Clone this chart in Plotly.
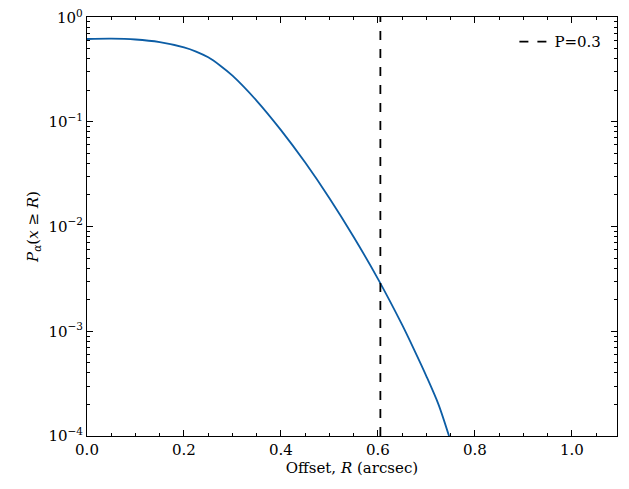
import plotly.graph_objects as go

x = [0.0, 0.05, 0.1, 0.15, 0.2, 0.225, 0.25, 0.275, 0.3, 0.35, 0.4, 0.45, 0.5, 0.55, 0.6, 0.65, 0.675, 0.7, 0.725, 0.75]
logy = [-0.21, -0.207, -0.215, -0.24, -0.29, -0.33, -0.385, -0.465, -0.56, -0.80, -1.08, -1.39, -1.73, -2.10, -2.50, -2.94, -3.18, -3.43, -3.70, -4.05]
y = [10 ** v for v in logy]
vline_x = 0.605
yticks = [1e-4, 1e-3, 1e-2, 1e-1]
yticklabels = ["10<sup>−4</sup>", "10<sup>−3</sup>", "10<sup>−2</sup>", "10<sup>−1</sup>"]
top_label = "10<sup>0</sup>"

font = dict(family="DejaVu Serif", size=15, color="black")
fig = go.Figure()
fig.add_trace(go.Scatter(x=x, y=y, mode="lines", line=dict(color="#0C5DA5", width=1.8, shape="spline", smoothing=0.8), showlegend=False))
fig.add_trace(go.Scatter(x=[vline_x, vline_x], y=[1e-4, 1], mode="lines", line=dict(color="black", width=1.8, dash="dash"), name="P=0.3"))

axis = dict(showgrid=False, zeroline=False, mirror="allticks", ticks="inside", showline=True, automargin=False,
            linecolor="black", linewidth=1, tickcolor="black", ticklen=6, tickfont=font)
fig.update_xaxes(**axis, range=[0, 1.093], tickvals=[0, 0.2, 0.4, 0.6, 0.8, 1.0], ticktext=["0.0", "0.2", "0.4", "0.6", "0.8", "1.0"],
                 minor=dict(ticks="inside", ticklen=3, tickcolor="black", dtick=0.05),
                 title=dict(text="Offset, <i>R</i> (arcsec)", font=font, standoff=4))
fig.update_yaxes(**axis, type="log", range=[-4, 0], tickvals=yticks + [1], ticktext=yticklabels + [""],
                 minor=dict(ticks="inside", ticklen=3, tickcolor="black", dtick="D1"),
                 title=dict(text="<i>P<sub>α</sub></i>(<i>x</i> ≥ <i>R</i>)", font=font, standoff=6))
fig.add_annotation(x=0, y=1, xref="paper", yref="paper", text=top_label, showarrow=False,
                   xanchor="right", yanchor="middle", xshift=-2, yshift=0, font=font)
fig.update_layout(width=621, height=481, margin=dict(l=79, r=12, t=9, b=53),
                  plot_bgcolor="white", paper_bgcolor="white", font=font,
                  legend=dict(x=0.98, y=0.98, xanchor="right", yanchor="top", bgcolor="rgba(0,0,0,0)", font=font))
fig.write_html("out.html")
